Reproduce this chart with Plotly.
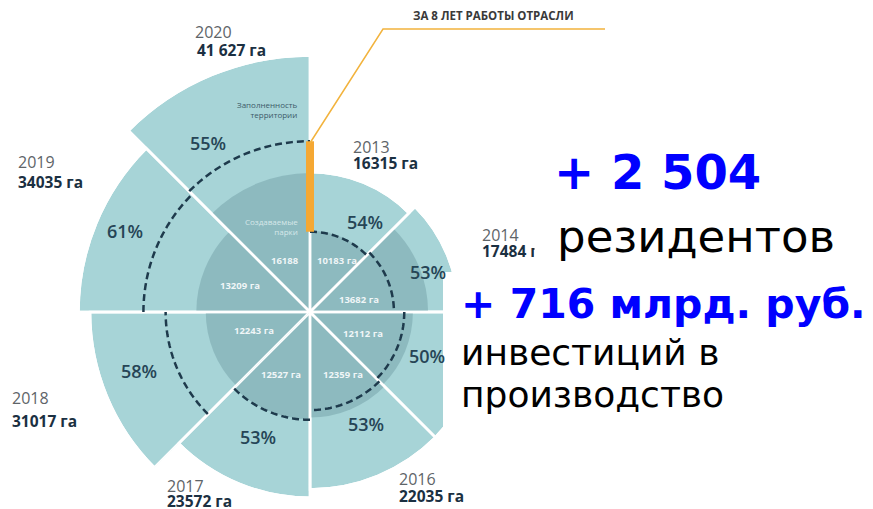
import math
import numpy as np
import plotly.graph_objects as go

W, H = 873, 509

# ---------------- data ----------------
years = ["2013", "2014", "2015", "2016", "2017", "2018", "2019", "2020"]
total_area_ha = [16315, 17484, 22000, 22035, 23572, 31017, 34035, 41627]   # 2015 label hidden -> estimate
area_labels = ["16315 га", "17484 га", "", "22035 га", "23572 га", "31017 га", "34035 га", "41 627 га"]
parks_created_ha = [10183, 13682, 12112, 12359, 12527, 12243, 13209, 16188]
parks_labels = ["10183 га", "13682 га", "12112 га", "12359 га", "12527 га", "12243 га", "13209 га", "16188"]
occupancy_pct = [54, 53, 50, 53, 53, 58, 61, 55]
filled_level_ha = [10100, 10400, 11300, 11650, 12600, 16900, 20200, 20900]  # dashed line level (estimate)

# ---------------- layout constants ----------------
CX, CY = 310, 312          # chart centre in pixels
V0 = 5300                  # value at the centre of the log radial axis
K = 124.5                  # pixels per e-fold of the radial axis
SECTOR = 45
LIGHT = "#A7D4D7"
DARK = "#8DBABF"
DASH_COL = "#1E3A4C"
ORANGE = "#F5A833"

theta_centres = [SECTOR * (i + 0.5) for i in range(len(years))]


def sector_bbox(sector):
    s0, s1 = sector
    arc = s1 - s0
    a0 = s0 % 360
    a1 = a0 + arc
    ax0, ay0 = math.cos(math.radians(a0)), math.sin(math.radians(a0))
    ax1, ay1 = math.cos(math.radians(a1)), math.sin(math.radians(a1))
    if (a0 <= 90 and a1 >= 90) or (a0 > 90 and a1 >= 450):
        y1 = 1
    elif ay0 <= 0 and ay1 <= 0:
        y1 = 0
    else:
        y1 = max(ay0, ay1)
    if (a0 <= 180 and a1 >= 180) or (a0 > 180 and a1 >= 540):
        x0 = -1
    elif ax0 >= 0 and ax1 >= 0:
        x0 = 0
    else:
        x0 = min(ax0, ax1)
    if (a0 <= 270 and a1 >= 270) or (a0 > 270 and a1 >= 630):
        y0 = -1
    elif ay0 >= 0 and ay1 >= 0:
        y0 = 0
    else:
        y0 = min(ay0, ay1)
    if a1 >= 360:
        x1 = 1
    elif ax0 <= 0 and ax1 <= 0:
        x1 = 0
    else:
        x1 = max(ax0, ax1)
    return x0, y0, x1, y1


# three partial polar subplots sharing one centre and one radial scale
subplots = [("polar", (0, 180), 264), ("polar2", (180, 225), 264), ("polar3", (225, 360), 196)]

fig = go.Figure()
layout_polars = {}

arc_theta, arc_r = [], []
for i, lvl in enumerate(filled_level_ha):
    t = np.linspace(SECTOR * i, SECTOR * (i + 1), 31)
    arc_theta += list(t) + [None]
    arc_r += [lvl] * len(t) + [None]

for name, sector, R in subplots:
    bx0, by0, bx1, by1 = sector_bbox(sector)
    dom_x = [(CX + R * bx0) / W, (CX + R * bx1) / W]
    dom_y = [1 - (CY - R * by0) / H, 1 - (CY - R * by1) / H]
    dom_x = [max(0, min(1, v)) for v in dom_x]
    dom_y = [max(0, min(1, v)) for v in dom_y]
    rmax = V0 * math.exp(R / K)
    layout_polars[name] = dict(
        domain=dict(x=dom_x, y=dom_y),
        sector=list(sector),
        bgcolor="rgba(0,0,0,0)",
        barmode="overlay",
        bargap=0,
        radialaxis=dict(type="log", range=[math.log10(V0), math.log10(rmax)], visible=False),
        angularaxis=dict(rotation=90, direction="clockwise", visible=False),
    )
    fig.add_trace(go.Barpolar(r=total_area_ha, theta=theta_centres, width=[SECTOR] * len(years),
                              marker=dict(color=LIGHT, line=dict(color="white", width=2.5)),
                              subplot=name, hoverinfo="skip"))
    fig.add_trace(go.Barpolar(r=parks_created_ha, theta=theta_centres, width=[SECTOR] * len(years),
                              marker=dict(color=DARK, line=dict(width=0)),
                              subplot=name, hoverinfo="skip"))
    fig.add_trace(go.Barpolar(r=total_area_ha, theta=theta_centres, width=[SECTOR] * len(years),
                              marker=dict(color="rgba(0,0,0,0)", line=dict(color="white", width=2.5)),
                              subplot=name, hoverinfo="skip"))
    fig.add_trace(go.Scatterpolar(r=arc_r, theta=arc_theta, mode="lines", connectgaps=False,
                                  line=dict(color=DASH_COL, width=2.5, dash="7px,4px"),
                                  subplot=name, hoverinfo="skip"))
    fig.add_trace(go.Scatterpolar(r=[filled_level_ha[0], filled_level_ha[-1]], theta=[0, 0], mode="lines",
                                  line=dict(color=ORANGE, width=8),
                                  subplot=name, hoverinfo="skip"))


def px(x, y):
    return x / W, 1 - y / H


annotations = []


def ann(text, x, y, size, color, family="Open Sans", weight=400, xanchor="center", yanchor="middle",
        align="center", **kw):
    ax, ay = px(x, y)
    d = dict(text=text, x=ax, y=ay, xref="paper", yref="paper", showarrow=False,
             xanchor=xanchor, yanchor=yanchor, align=align,
             font=dict(size=size, color=color, family=family, weight=weight))
    d.update(kw)
    annotations.append(d)


# year + area labels
year_pos = [(351, 147, 163), (480, 235, 251), None, (397, 479, 496), (165, 486, 501),
            (10, 398, 421), (16, 162, 182), (193, 32, 50)]
for yr, lab, pos in zip(years, area_labels, year_pos):
    if pos is None:
        continue
    x, yy, yv = pos
    ann(yr, x, yy, 16, "#5E6468", xanchor="left")
    ann(lab, x + (2 if yr == "2020" else 0), yv, 15.5, "#1B3042", weight=700, xanchor="left")

# occupancy percentages
pct_pos = [(365, 222), (428, 272), (427, 356), (366, 424), (258, 437), (139, 371), (125, 231), (208, 143)]
for p, (x, y) in zip(occupancy_pct, pct_pos):
    ann(f"{p}%", x, y, 18, "#264556", weight=600)

# created parks labels
parks_pos = [(337, 260), (359, 299), (363, 333), (343, 374), (281, 374), (254, 330), (240, 285), (285, 260)]
for lab, (x, y) in zip(parks_labels, parks_pos):
    ann(lab, x, y, 9.5, "rgba(255,255,255,0.88)", weight=700)

ann("Создаваемые<br>парки", 300, 226, 8, "#D6E8EA", xanchor="right", align="right")
ann("Заполненность<br>территории", 300, 109, 8, "#3C5A68", xanchor="right", align="right")
ann("ЗА 8 ЛЕТ РАБОТЫ ОТРАСЛИ", 411, 16, 11.5, "#3A3A3A", weight=700, xanchor="left")

# overlay texts (slide text)
BIG = "DejaVu Sans"
ann("+ 2 504", 657, 172, 48, "#0000FF", family=BIG, weight=700)
ann("резидентов", 534, 236, 45, "#000000", family=BIG, xanchor="left", align="right",
    width=300, bgcolor="white", borderpad=0)
ann("+ 716 млрд. руб.", 459, 304, 41, "#0000FF", family=BIG, weight=700, xanchor="left")
ann("инвестиций в", 459, 352, 36, "#000000", family=BIG, xanchor="left")
ann("производство", 459, 394, 36, "#000000", family=BIG, xanchor="left")

# decorations: callout leader line and white box over part of the chart
p1, p2, p3 = px(310, 143), px(383, 29), px(605, 29)
shapes = [
    dict(type="rect", xref="paper", yref="paper", x0=443 / W, x1=1, y0=0, y1=1 - 272 / H,
         fillcolor="white", line=dict(width=0), layer="above"),
    dict(type="path", xref="paper", yref="paper",
         path=f"M {p1[0]},{p1[1]} L {p2[0]},{p2[1]} L {p3[0]},{p3[1]}",
         line=dict(color="#F2B33D", width=1.5), layer="above"),
]

fig.update_layout(
    width=W, height=H,
    margin=dict(l=0, r=0, t=0, b=0),
    paper_bgcolor="white",
    plot_bgcolor="white",
    showlegend=False,
    annotations=annotations,
    shapes=shapes,
    **layout_polars,
)

fig.write_html("out.html", config={"displayModeBar": False},
               post_script="document.body.style.margin='0';document.body.style.overflow='hidden';")
